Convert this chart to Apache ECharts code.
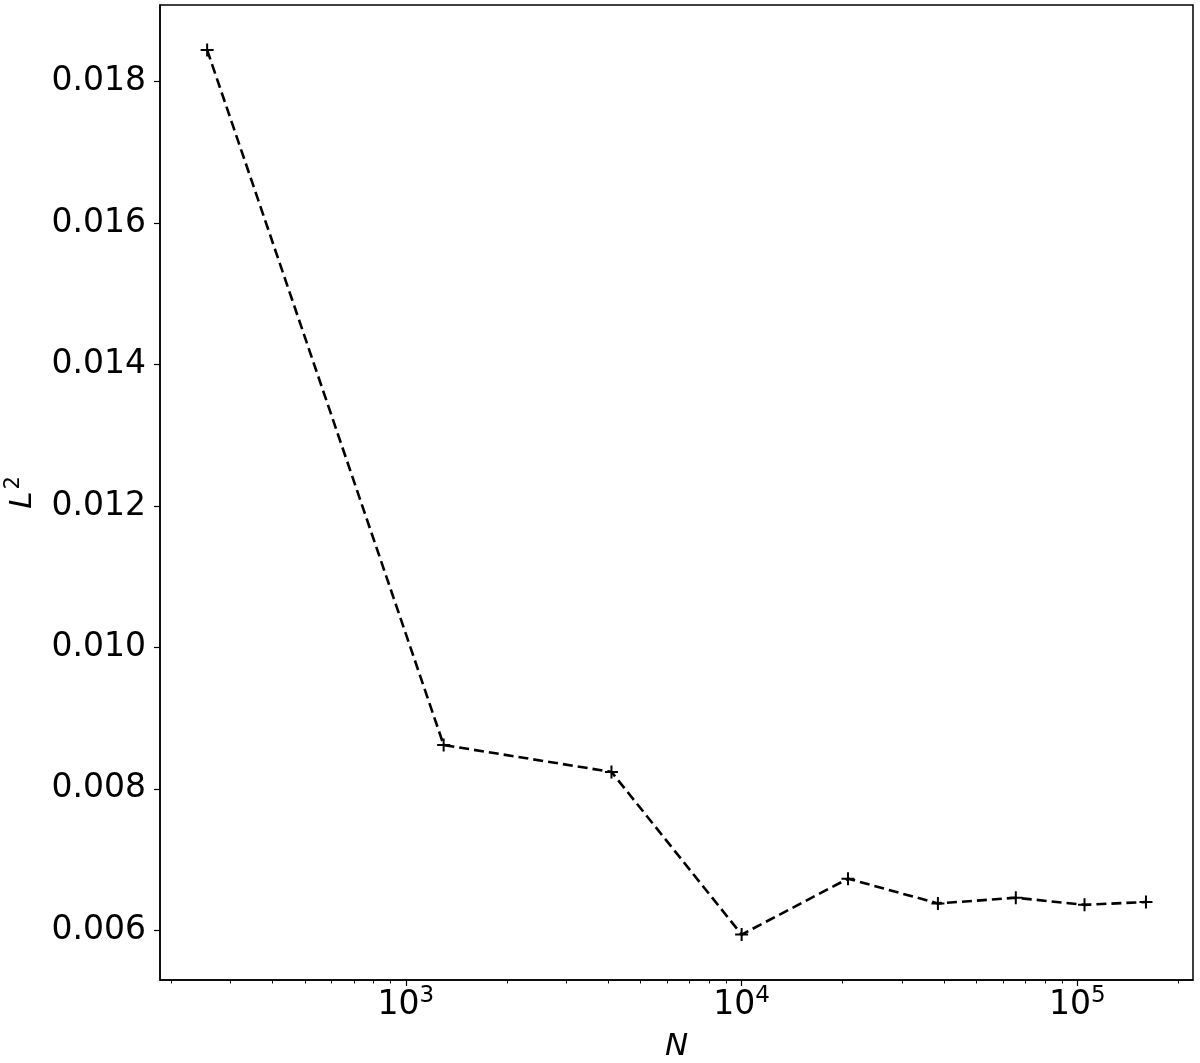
<!DOCTYPE html>
<html>
<head>
<meta charset="utf-8">
<script src="https://cdn.jsdelivr.net/npm/echarts@6/dist/echarts.min.js"></script>
<style>
  html, body { margin: 0; padding: 0; background: #fff; }
  #main { width: 1200px; height: 1063px; }
</style>
</head>
<body>
<div id="main"></div>
<script>
  // sample sizes N and the L2 error
  var nValues = [256, 1296, 4096, 10000, 20736, 38416, 65536, 104976, 160000]
  var l2Values = [0.01845, 0.00862, 0.00824, 0.00594, 0.00673, 0.00638, 0.00646, 0.00636, 0.00640]

  var xMajorTicks = [1000, 10000, 100000]
  var xMinorTicks = [200, 300, 400, 500, 600, 700, 800, 900,
    2000, 3000, 4000, 5000, 6000, 7000, 8000, 9000,
    20000, 30000, 40000, 50000, 60000, 70000, 80000, 90000, 200000]
  var yTicks = [0.006, 0.008, 0.010, 0.012, 0.014, 0.016, 0.018]

  var font = 'DejaVu Sans'
  var points = nValues.map(function (n, i) { return [n, l2Values[i]] })

  var chart = echarts.init(document.getElementById('main'))
  var option = {
    backgroundColor: '#fff',
    animation: false,
    grid: {
      left: 160, top: 5, right: 7, bottom: 83,
      outerBoundsMode: 'none',
      containLabel: false,
      show: true, borderColor: '#000', borderWidth: 1.5
    },
    xAxis: [{
      type: 'log',
      min: 185.3,
      max: 220900,
      name: 'N',
      nameLocation: 'middle',
      nameGap: 51,
      nameTextStyle: { fontFamily: font, fontSize: 31, fontStyle: 'italic', color: '#000' },
      axisLine: { show: true, lineStyle: { color: '#000', width: 1.5 } },
      axisTick: { customValues: xMajorTicks, length: 6, lineStyle: { color: '#000', width: 1.2 } },
      axisLabel: {
        customValues: xMajorTicks,
        margin: 6,
        formatter: function (v) {
          return '{b|10}{s|' + Math.round(Math.log10(v)) + '}'
        },
        rich: {
          b: { fontFamily: font, fontSize: 33, color: '#000', verticalAlign: 'bottom', lineHeight: 36 },
          s: { fontFamily: font, fontSize: 23, color: '#000', verticalAlign: 'bottom', lineHeight: 36, padding: [0, 0, 14, 0] }
        }
      },
      splitLine: { show: false }
    }, {
      // minor ticks only
      type: 'log',
      min: 185.3,
      max: 220900,
      position: 'bottom',
      axisLine: { show: false },
      axisTick: { customValues: xMinorTicks, length: 3.5, lineStyle: { color: '#000', width: 1 } },
      axisLabel: { show: false },
      splitLine: { show: false }
    }],
    yAxis: {
      type: 'value',
      min: 0.005297,
      max: 0.019085,
      name: '{i|L}{s|2}',
      nameLocation: 'middle',
      nameRotate: 90,
      nameGap: 122,
      nameTextStyle: {
        rich: {
          i: { fontFamily: font, fontSize: 31, fontStyle: 'italic', color: '#000', verticalAlign: 'bottom', lineHeight: 34 },
          s: { fontFamily: font, fontSize: 21, color: '#000', verticalAlign: 'bottom', lineHeight: 34, padding: [0, 0, 14, 2] }
        }
      },
      axisLine: { show: true, lineStyle: { color: '#000', width: 1.5 } },
      axisTick: { customValues: yTicks, length: 6, lineStyle: { color: '#000', width: 1.2 } },
      axisLabel: {
        customValues: yTicks,
        margin: 14,
        fontFamily: font,
        fontSize: 33,
        color: '#000',
        formatter: function (v) { return v.toFixed(3) }
      },
      splitLine: { show: false }
    },
    series: [{
      type: 'line',
      xAxisIndex: 0,
      data: points,
      symbol: 'path://M5,0L5,10M0,5L10,5',
      symbolSize: 13,
      itemStyle: { color: '#000', borderColor: '#000', borderWidth: 2 },
      lineStyle: { color: '#000', width: 2.6, type: [10, 5] }
    }]
  }
  chart.setOption(option)
</script>
</body>
</html>
